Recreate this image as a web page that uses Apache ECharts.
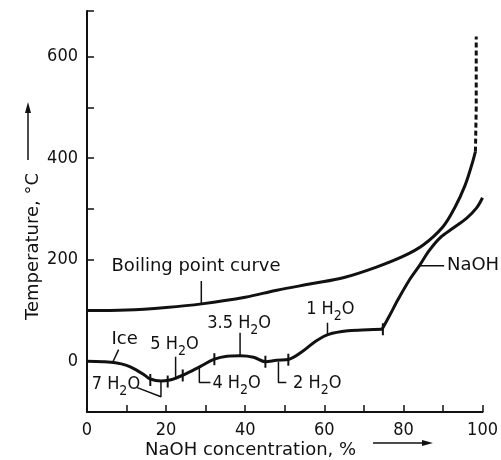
<!DOCTYPE html>
<html>
<head>
<meta charset="utf-8">
<script src="https://cdn.jsdelivr.net/npm/echarts@6/dist/echarts.min.js"></script>
<style>
  html, body { margin: 0; padding: 0; background: #fff; }
  #chart { width: 501px; height: 460px; }
</style>
</head>
<body>
<div id="chart"></div>
<script>
// values (NaOH %, temperature in °C)
var boilingCurve = [[0, 100], [10, 101], [20, 106], [29, 113], [40, 126], [48, 140], [57, 153],
    [65, 165], [73, 185], [80, 207], [85, 229], [90, 265], [93, 303], [95.5, 345], [97.2, 385], [98.2, 413]];
var boilingDashed = [[98.2, 413], [98.4, 500], [98.4, 640]];
var liquidusCurve = [[0, 0], [4, -1], [7.2, -3], [10, -8], [12.2, -16], [14.5, -27], [16, -35], [18.7, -39],
    [20.9, -37], [22.5, -33], [24.7, -26], [28.7, -10], [32.2, 4], [35.4, 10], [38.7, 11], [42.1, 8],
    [45.1, -1], [47.9, 2], [51.1, 4], [54.6, 20], [57.9, 40], [61.1, 53], [66.1, 60], [71.1, 62], [74.6, 63]];
var naohCurve = [[74.6, 63], [76.5, 90], [78.6, 121], [81.5, 160], [84, 188], [86.5, 218], [89.5, 245],
    [92.5, 262], [96, 282], [98.5, 302], [100, 322]];
// little cross marks where the hydrate branches meet
var boundaryTicks = [[16, -37], [20.4, -40], [24.2, -28], [32.2, 4], [45.1, -1], [50.9, 3], [74.8, 63]];

var xTickLabels = [0, 20, 40, 60, 80, 100];
var yTickLabels = [0, 200, 400, 600];

// label texts and where they sit (data coords)
var notes = [
    {text: 'Boiling point curve', at: [6.2, 186], kind: 'word'},
    {text: 'Ice', at: [6.2, 43], kind: 'word'},
    {text: '5 H|2|O', at: [16, 34], kind: 'chem'},
    {text: '3.5 H|2|O', at: [30.4, 74], kind: 'chem'},
    {text: '1 H|2|O', at: [55.4, 103], kind: 'chem'},
    {text: '7 H|2|O', at: [1.2, -46], kind: 'chem'},
    {text: '4 H|2|O', at: [31.7, -44], kind: 'chem'},
    {text: '2 H|2|O', at: [52.1, -44], kind: 'chem'},
    {text: 'NaOH', at: [91, 188], kind: 'word'}
];
var leaders = [
    [[28.9, 158], [28.9, 114]],
    [[8.0, 23], [6.5, -2]],
    [[22.4, 9], [22.4, -36]],
    [[38.7, 56], [38.7, 10]],
    [[60.8, 76], [60.8, 52]],
    [[12.7, -52], [18.7, -70], [18.7, -39]],
    [[28.4, -13], [28.4, -42], [31.2, -42]],
    [[48.4, -1], [48.4, -42], [50.4, -42]],
    [[84, 188], [90.3, 188]]
];

var INK = '#111';
var cond = '"DejaVu Sans Condensed", "DejaVu Sans", sans-serif';
var plain = '"DejaVu Sans", sans-serif';

var chart = echarts.init(document.getElementById('chart'));

function curve(data, smooth, dashed) {
    return {
        type: 'line', data: data, smooth: smooth, showSymbol: false, silent: true,
        lineStyle: {color: INK, width: 3, type: dashed ? [5, 3] : 'solid'}
    };
}

var series = [
    curve(boilingCurve, 0.35),
    curve(boilingDashed, false, true),
    curve(liquidusCurve, 0.35),
    curve(naohCurve, 0.3),
    {
        type: 'scatter', data: boundaryTicks, symbol: 'rect', symbolSize: [2, 12], silent: true,
        itemStyle: {color: INK, opacity: 1}
    }
];
leaders.forEach(function (l) {
    series.push({type: 'line', data: l, showSymbol: false, silent: true,
        lineStyle: {color: INK, width: 1.5}});
});
series.push({
    type: 'scatter', symbolSize: 0, silent: true,
    itemStyle: {color: INK, opacity: 1},
    data: notes.map(function (n) { return {value: n.at, note: n}; }),
    label: {
        show: true, position: 'right', distance: 0, color: INK, opacity: 1,
        formatter: function (p) {
            var n = p.data.note;
            if (n.kind === 'word') return '{w|' + n.text + '}';
            var parts = n.text.split('|');
            return '{n|' + parts[0] + '}{s|' + parts[1] + '}{n|' + parts[2] + '}';
        },
        rich: {
            w: {fontFamily: plain, fontSize: 18, color: INK, lineHeight: 22},
            n: {fontFamily: cond, fontSize: 18, color: INK, lineHeight: 20},
            s: {fontFamily: cond, fontSize: 14, color: INK, lineHeight: 28, verticalAlign: 'bottom'}
        }
    }
});

chart.setOption({
    backgroundColor: '#fff',
    animation: false,
    grid: {left: 87, right: 12, top: 11, bottom: 48},
    xAxis: {
        type: 'value', min: 0, max: 100, interval: 10,
        splitLine: {show: false},
        axisLine: {onZero: false, lineStyle: {color: INK, width: 2}},
        axisTick: {inside: true, length: 7, lineStyle: {color: INK, width: 1.5}},
        axisLabel: {
            color: INK, fontFamily: cond, fontSize: 18, margin: 9,
            formatter: function (v) { return xTickLabels.indexOf(v) >= 0 ? String(v) : ''; }
        }
    },
    yAxis: {
        type: 'value', min: -100, max: 690, interval: 100,
        splitLine: {show: false},
        axisLine: {lineStyle: {color: INK, width: 2}},
        axisTick: {inside: true, length: 7, lineStyle: {color: INK, width: 1.5}},
        axisLabel: {
            color: INK, fontFamily: cond, fontSize: 18, margin: 9,
            formatter: function (v) { return yTickLabels.indexOf(v) >= 0 ? String(v) : ''; }
        }
    },
    graphic: [
        {type: 'text', x: 145, y: 450, style: {text: 'NaOH concentration, %', fill: INK,
            font: '18px ' + plain, textAlign: 'left', textVerticalAlign: 'middle'}},
        {type: 'line', shape: {x1: 373, y1: 443, x2: 424, y2: 443}, style: {stroke: INK, lineWidth: 1.5}},
        {type: 'polygon', shape: {points: [[433, 443], [422, 440], [422, 446]]}, style: {fill: INK}},
        {type: 'text', x: 33, y: 320, rotation: Math.PI / 2, style: {text: 'Temperature, °C', fill: INK,
            font: '18px ' + plain, textAlign: 'left', textVerticalAlign: 'middle'}},
        {type: 'line', shape: {x1: 28, y1: 160, x2: 28, y2: 112}, style: {stroke: INK, lineWidth: 1.5}},
        {type: 'polygon', shape: {points: [[28, 102], [25, 113], [31, 113]]}, style: {fill: INK}}
    ],
    series: series
});
</script>
</body>
</html>
